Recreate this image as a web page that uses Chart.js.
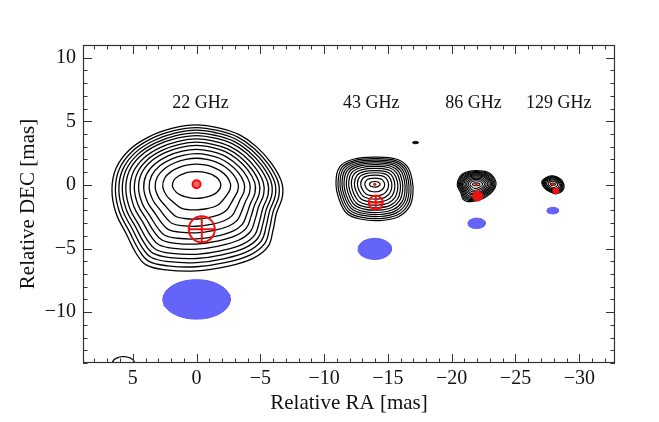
<!DOCTYPE html>
<html>
<head>
<meta charset="utf-8">
<script src="https://cdn.jsdelivr.net/npm/chart.js@4.4.1/dist/chart.umd.min.js"></script>
<style>
  html, body { margin: 0; padding: 0; background: #fff; }
  #wrap { width: 659px; height: 422px; }
</style>
</head>
<body>
<div id="wrap"><canvas id="c"></canvas></div>
<script>
// axes
const xTicks = [5, 0, -5, -10, -15, -20, -25, -30];
const yTicks = [10, 5, 0, -5, -10];

// frequency labels
const freqLabels = ['22 GHz', '43 GHz', '86 GHz', '129 GHz'];
const labelRA = [-0.3, -13.7, -21.7, -28.4];
const labelDEC = [6.4, 6.4, 6.4, 6.4];

// contour maps: core position, outermost contour (RA, DEC), innermost ellipse radii, level spacing
const core22 = [0, 0];
const outer22 = [[0, 4.72], [-1.81, 4.46], [-3.38, 3.93], [-4.69, 3.01], [-5.87, 1.7], [-6.66, 0.26],
  [-6.73, -0.92], [-6.26, -2.23], [-6.0, -3.54], [-5.6, -4.85], [-4.43, -5.77], [-2.33, -6.42],
  [0.02, -6.76], [2.38, -6.68], [3.95, -6.29], [4.74, -5.37], [5.53, -3.8], [6.31, -2.23],
  [6.63, -0.39], [6.31, 1.31], [5.27, 2.75], [3.7, 3.8], [1.86, 4.46]];
const inner22 = [1.9, 1.05];
const levels22 = [0, 0.057, 0.114, 0.171, 0.229, 0.3, 0.37, 0.44, 0.525, 0.615, 0.715, 0.84, 1];

const core43 = [-13.97, 0.05];
const outer43 = [[-13.99, 2.18], [-15.7, 2.02], [-16.53, 1.44], [-16.9, 0.39], [-16.96, -0.65],
  [-16.69, -1.71], [-15.83, -2.5], [-14.39, -2.8], [-12.81, -2.68], [-11.77, -2.23],
  [-11.19, -1.18], [-10.93, 0.13], [-11.24, 1.44], [-12.29, 2.02]];
const inner43 = [0.42, 0.22];
const levels43 = [0, 0.06, 0.12, 0.18, 0.24, 0.31, 0.38, 0.46, 0.55, 0.64, 0.74, 0.86, 1];

const core86 = [-21.92, 0.05];
const outer86 = [[-20.43, 0], [-20.64, 0.65], [-21.04, 0.97], [-21.9, 1.12], [-22.87, 0.97],
  [-23.39, 0.45], [-23.47, 0], [-23.26, -0.45], [-22.74, -0.92], [-22.08, -1.23],
  [-21.3, -1.31], [-20.9, -1.13], [-20.7, -0.6]];
const inner86 = [0.3, 0.12];
const levels86 = [0, 0.07, 0.14, 0.21, 0.28, 0.35, 0.43, 0.52, 0.62, 0.72, 0.84, 1];

const core129 = [-27.92, 0.05];
const outer129 = [[-27.06, 0.26], [-27.45, 0.61], [-27.97, 0.71], [-28.55, 0.45], [-28.81, 0],
  [-28.7, -0.45], [-28.23, -0.7], [-27.84, -0.6], [-27.32, -0.3]];
const inner129 = [0.22, 0.09];
const levels129 = [0, 0.1, 0.2, 0.3, 0.42, 0.56, 0.75, 1];

// stray components (center RA, DEC, radii)
const blob = [-17.16, 3.33, 0.22, 0.09];
const edgeArc = [5.73, -14.0, 0.86, 0.5];

// restoring beams
const beamRA = [0, -13.97, -21.95, -27.92];
const beamDEC = [-9.0, -5.03, -3.02, -2.02];
const beamRX = [2.64, 1.31, 0.68, 0.46];
const beamRY = [1.55, 0.83, 0.41, 0.26];

// red markers: cores and component positions
const coreRA = [0, -13.97, -21.92, -27.92];
const coreDEC = [0.05, 0.05, 0.05, 0.05];
const compRA = [-0.41, -14.05, -22.03, -28.16];
const compDEC = [-3.49, -1.39, -0.87, -0.46];

function wrap(pts) {
  return [pts[pts.length - 1], ...pts, pts[0], pts[1]];
}

function rings(core, outer, inner, levels) {
  return levels.map(t => wrap(outer.map(([ra, dec]) => {
    const a = Math.atan2(dec - core[1], ra - core[0]);
    const r = 1 / Math.sqrt((Math.cos(a) / inner[0]) ** 2 + (Math.sin(a) / inner[1]) ** 2);
    const qx = core[0] + r * Math.cos(a), qy = core[1] + r * Math.sin(a);
    return { x: ra + t * (qx - ra), y: dec + t * (qy - dec) };
  })));
}

function ellipse(cx, cy, rx, ry) {
  const pts = [];
  for (let i = 0; i <= 72; i++) {
    const a = i / 72 * 2 * Math.PI;
    pts.push({ x: cx + rx * Math.cos(a), y: cy + ry * Math.sin(a) });
  }
  return pts;
}

const hideEnds = {
  borderColor: ctx => {
    const n = ctx.chart.data.datasets[ctx.datasetIndex].data.length;
    return (ctx.p0DataIndex === 0 || ctx.p0DataIndex === n - 2) ? 'rgba(0,0,0,0)' : undefined;
  }
};

const datasets = [];

// markers on top
datasets.push({
  data: [{ x: compRA[0], y: compDEC[0] }], pointStyle: 'circle', pointRadius: 13,
  pointBorderWidth: 2, pointBorderColor: '#f01010', pointBackgroundColor: 'rgba(0,0,0,0)', order: 0
});
datasets.push({
  data: [{ x: compRA[0], y: compDEC[0] }], pointStyle: 'cross', pointRadius: 13,
  pointBorderWidth: 2, pointBorderColor: '#f01010', order: 0
});
datasets.push({
  data: [{ x: compRA[1], y: compDEC[1] }], pointStyle: 'circle', pointRadius: 7,
  pointBorderWidth: 2, pointBorderColor: '#f01010', pointBackgroundColor: 'rgba(0,0,0,0)', order: 0
});
datasets.push({
  data: [{ x: compRA[1], y: compDEC[1] }], pointStyle: 'cross', pointRadius: 7,
  pointBorderWidth: 2, pointBorderColor: '#f01010', order: 0
});
datasets.push({
  data: [{ x: compRA[2], y: compDEC[2] }, { x: compRA[3], y: compDEC[3] }], pointStyle: 'circle',
  pointRadius: [5, 3], pointBorderWidth: 1, pointBorderColor: '#f01010', pointBackgroundColor: '#f01010', order: 0
});
datasets.push({
  data: [{ x: coreRA[0], y: coreDEC[0] }], pointStyle: 'circle', pointRadius: 4,
  pointBorderWidth: 2, pointBorderColor: '#f01010', pointBackgroundColor: '#ff6060', order: 0
});
datasets.push({
  data: coreRA.slice(1).map((v, i) => ({ x: v, y: coreDEC[i + 1] })), pointStyle: 'circle',
  pointRadius: 1.6, pointBorderWidth: 0, pointBackgroundColor: '#f01010', order: 0
});

// beams
beamRA.forEach((ra, i) => {
  datasets.push({
    data: ellipse(ra, beamDEC[i], beamRX[i], beamRY[i]), showLine: true, pointRadius: 0,
    borderColor: '#5a5af2', borderWidth: 1, backgroundColor: '#6464fa', fill: 'shape', tension: 0, order: 1
  });
});

// contours
[[core22, outer22, inner22, levels22, 1.3], [core43, outer43, inner43, levels43, 1.2],
 [core86, outer86, inner86, levels86, 1.1], [core129, outer129, inner129, levels129, 1.1]]
  .forEach(([c, o, inn, lv, w]) => {
    rings(c, o, inn, lv).forEach(pts => {
      datasets.push({
        data: pts, showLine: true, pointRadius: 0, borderColor: '#000', borderWidth: w,
        tension: 0.4, fill: false, segment: hideEnds, order: 2
      });
    });
  });

datasets.push({
  data: ellipse(blob[0], blob[1], blob[2], blob[3]), showLine: true, pointRadius: 0,
  borderColor: '#000', borderWidth: 1, backgroundColor: '#000', fill: 'shape', tension: 0, order: 2
});
datasets.push({
  data: ellipse(edgeArc[0], edgeArc[1], edgeArc[2], edgeArc[3]), showLine: true, pointRadius: 0,
  borderColor: '#000', borderWidth: 1.2, fill: false, tension: 0, order: 2
});

const serif = '"Liberation Serif", "Times New Roman", serif';
const minus = v => (v < 0 ? '\u2212' + Math.abs(v) : String(v));

const frameTicks = {
  id: 'frameTicks',
  afterDatasetsDraw(chart) {
    const { ctx, chartArea: a, scales: { x, y } } = chart;
    ctx.save();
    ctx.strokeStyle = '#333';
    ctx.lineWidth = 1;
    ctx.beginPath();
    for (let v = Math.ceil(x.min); v <= x.max; v++) {
      const p = Math.round(x.getPixelForValue(v)) + 0.5;
      const len = v % 5 === 0 ? 9 : 4.5;
      ctx.moveTo(p, a.bottom); ctx.lineTo(p, a.bottom - len);
      ctx.moveTo(p, a.top); ctx.lineTo(p, a.top + len);
    }
    for (let v = Math.ceil(y.min); v <= y.max; v++) {
      const p = Math.round(y.getPixelForValue(v)) + 0.5;
      const len = v % 5 === 0 ? 9 : 4.5;
      ctx.moveTo(a.left, p); ctx.lineTo(a.left + len, p);
      ctx.moveTo(a.right, p); ctx.lineTo(a.right - len, p);
    }
    ctx.stroke();
    ctx.lineWidth = 1.2;
    ctx.strokeRect(Math.round(a.left) + 0.5, Math.round(a.top) + 0.5,
      Math.round(a.width) - 1, Math.round(a.height) - 1);

    ctx.fillStyle = '#111';
    ctx.font = '18px ' + serif;
    ctx.textAlign = 'center';
    ctx.textBaseline = 'middle';
    freqLabels.forEach((t, i) => {
      ctx.fillText(t, x.getPixelForValue(labelRA[i]), y.getPixelForValue(labelDEC[i]));
    });
    ctx.restore();
  }
};

new Chart(document.getElementById('c'), {
  type: 'scatter',
  data: { datasets },
  options: {
    responsive: true,
    maintainAspectRatio: false,
    animation: false,
    events: [],
    layout: { padding: { top: 45, right: 44, left: 0, bottom: 0 } },
    plugins: { legend: { display: false }, tooltip: { enabled: false } },
    scales: {
      x: {
        type: 'linear',
        min: -32.8,
        max: 8.9,
        reverse: true,
        grid: { display: false, drawTicks: false, tickLength: 0 },
        border: { display: false },
        afterBuildTicks: s => { s.ticks = xTicks.map(v => ({ value: v })); },
        afterFit: s => { s.height = 59; },
        ticks: {
          callback: v => minus(v), color: '#111', padding: 4, maxRotation: 0,
          font: { family: serif, size: 20 }
        },
        title: {
          display: true, text: 'Relative RA [mas]', color: '#111',
          font: { family: serif, size: 21 }, padding: { top: 0, bottom: 6 }
        }
      },
      y: {
        type: 'linear',
        min: -14,
        max: 11,
        grid: { display: false, drawTicks: false, tickLength: 0 },
        border: { display: false },
        afterBuildTicks: s => { s.ticks = yTicks.map(v => ({ value: v })); },
        afterFit: s => { s.width = 83; },
        ticks: {
          callback: v => minus(v), color: '#111', padding: 7,
          font: { family: serif, size: 20 }
        },
        title: {
          display: true, text: 'Relative DEC [mas]', color: '#111',
          font: { family: serif, size: 21 }, padding: { top: 16, bottom: 0 }
        }
      }
    }
  },
  plugins: [frameTicks]
});
</script>
</body>
</html>
